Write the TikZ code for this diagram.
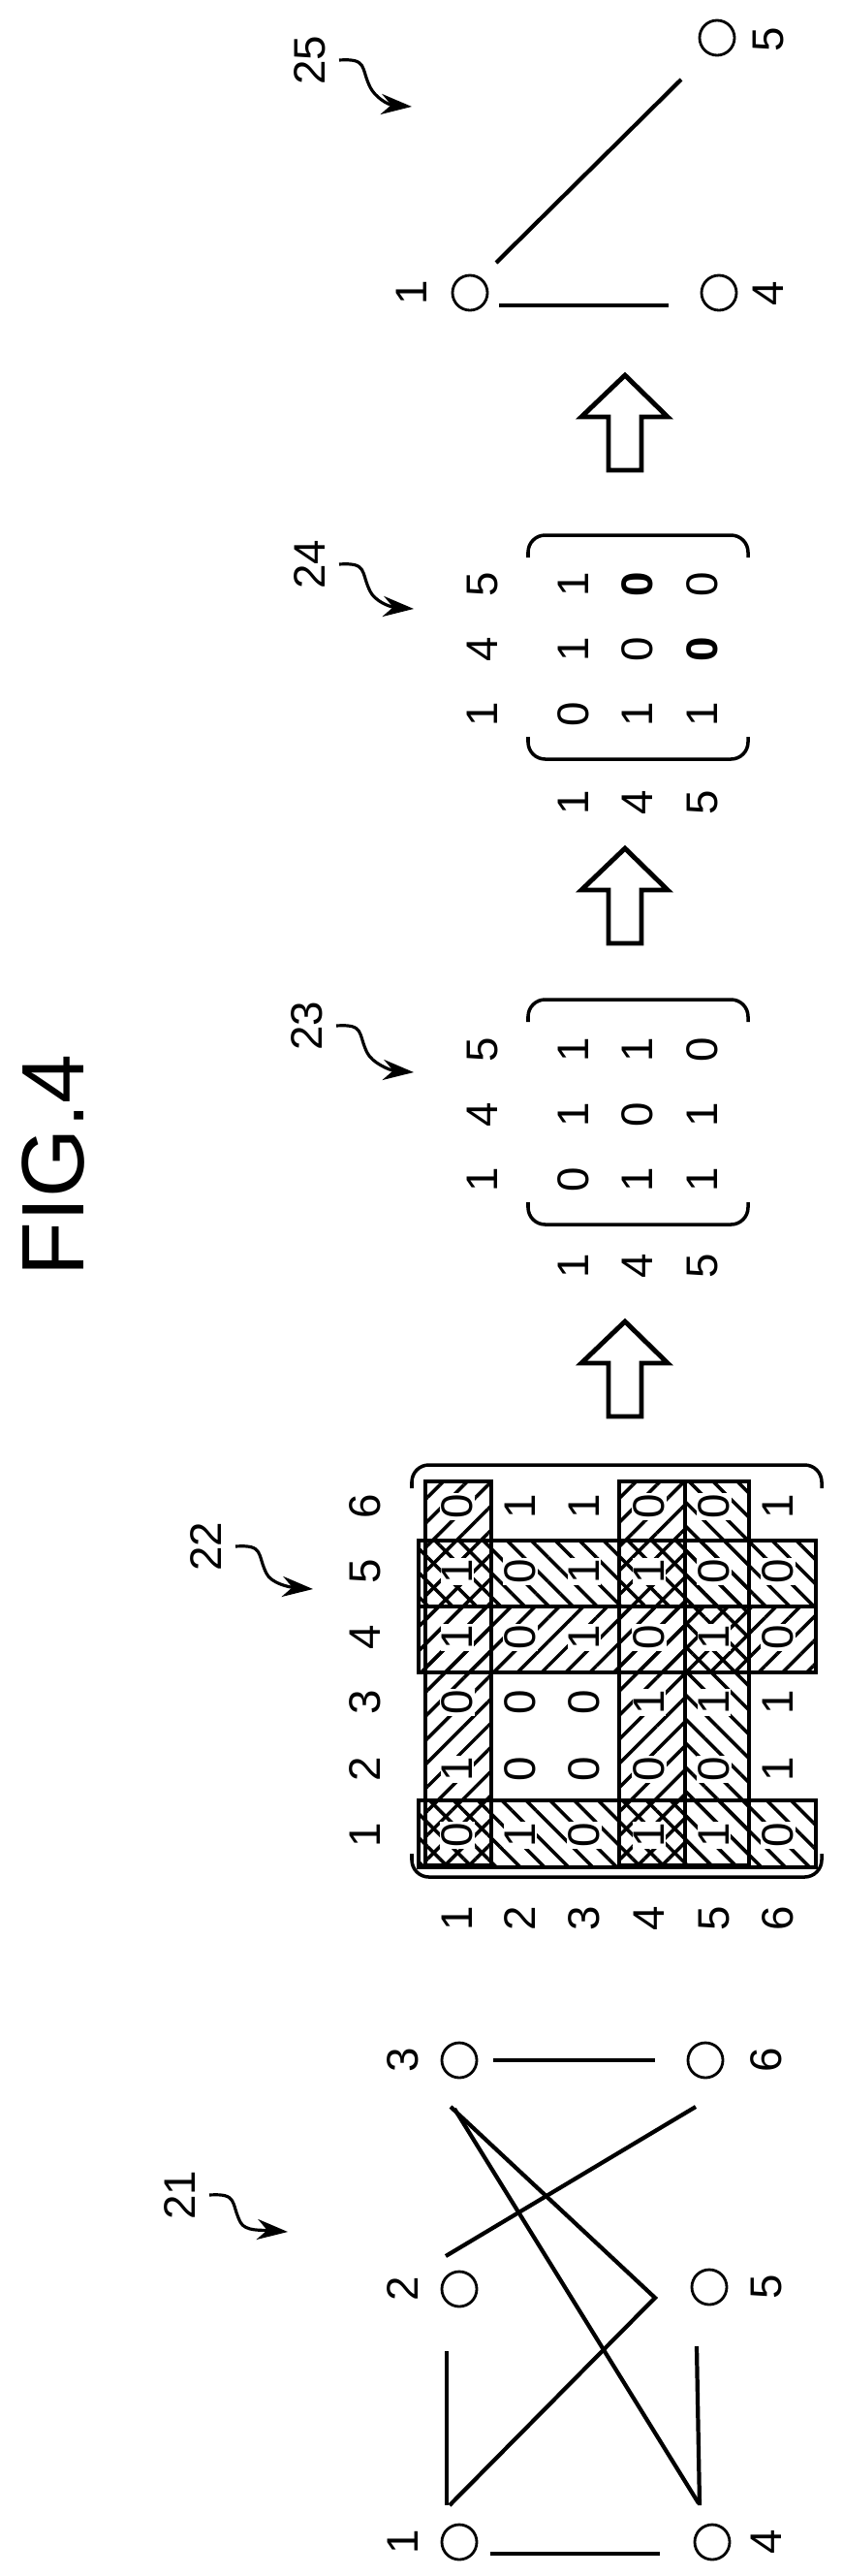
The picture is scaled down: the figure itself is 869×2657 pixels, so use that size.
\documentclass[tikz,border=0pt]{standalone}
\usepackage{fontspec}
\setmainfont{Liberation Sans}
\usetikzlibrary{arrows.meta,patterns.meta}
\begin{document}
\begin{tikzpicture}[x=0.01cm,y=-0.01cm,
  lbl/.style={rotate=90,inner sep=0pt,font=\fontsize{13}{15}\selectfont},
  vtx/.style={circle,draw,line width=0.8pt,minimum size=0.36cm,inner sep=0pt},
  edge/.style={line width=1.2pt},
  brk/.style={line width=1pt,rounded corners=5},
  wig/.style={line width=0.9pt,-{Stealth[length=9pt,width=6pt]}},
  bigarrow/.style={line width=1.4pt,line join=miter},
  band/.style={draw,line width=1.2pt},
  ne/.style={pattern={Lines[angle=45,distance=5pt,line width=1pt]}},
  nw/.style={pattern={Lines[angle=-45,distance=5pt,line width=1pt]}}]
\useasboundingbox (0,0) rectangle (869,2657);

% title
\node[rotate=90,inner sep=0pt,font=\fontsize{26}{30}\selectfont] (fig) at (55,1202) {FIG.4};

% reference labels with wiggle arrows
\node[lbl] (l21) at (186,2264) {21};
\node[lbl] (l22) at (213,1595) {22};
\node[lbl] (l23) at (317,1058) {23};
\node[lbl] (l24) at (320,582) {24};
\node[lbl] (l25) at (320,62) {25};
\coordinate (t21) at (297,2302);
\coordinate (t22) at (323,1639);
\coordinate (t23) at (427,1106);
\coordinate (t24) at (427,628);
\coordinate (t25) at (425,110);
\foreach \n in {21,22,23,24,25}{
  \draw[wig] ([xshift=0.3cm]l\n.center) .. controls +(30,-2) and +(-10,-20) .. ([xshift=0.62cm,yshift=-0.28cm]l\n.center)
     .. controls +(5,10) and +(-25,-2) .. (t\n);
}

% ---------- graph 21 ----------
\node[vtx] (a1) at (474,2622) {};
\node[vtx] (a2) at (474,2361) {};
\node[vtx] (a3) at (474,2125) {};
\node[vtx] (a4) at (735,2622) {};
\node[vtx] (a5) at (732,2359) {};
\node[vtx] (a6) at (728,2125) {};
\node[lbl] (a1l) at (416,2622) {1};
\node[lbl] (a2l) at (416,2361) {2};
\node[lbl] (a3l) at (416,2125) {3};
\node[lbl] (a4l) at (791,2622) {4};
\node[lbl] (a5l) at (791,2359) {5};
\node[lbl] (a6l) at (791,2125) {6};
\coordinate (bend) at (676,2370);
\draw[edge] (506,2634) -- (681,2634);
\draw[edge] (509,2125) -- (676,2125);
\draw[edge] (461,2425) -- (461,2584);
\draw[edge] (719,2420) -- (722,2584);
\draw[edge,line join=miter] (464,2584) -- (bend) -- (465,2173);
\draw[edge] (469,2175) -- (721,2582);
\draw[edge] (460,2327) -- (718,2173);

% ---------- matrix 22 ----------
\fill[nw] (432,1857) rectangle (842,1926);
\fill[ne] (432,1657) rectangle (842,1725);
\fill[nw] (432,1589) rectangle (842,1657);
\fill[ne] (439,1528) rectangle (507,1924);
\fill[ne] (639,1528) rectangle (707,1924);
\fill[nw] (707,1528) rectangle (773,1924);
\draw[band] (432,1857) rectangle (842,1926);
\draw[band] (432,1657) rectangle (842,1725);
\draw[band] (432,1589) rectangle (842,1657);
\draw[band] (439,1528) rectangle (507,1924);
\draw[band] (639,1528) rectangle (707,1924);
\draw[band] (707,1528) rectangle (773,1924);
\draw[brk] (425,1535) -- (425,1511) -- (848,1511) -- (848,1535);
\draw[brk] (425,1912) -- (425,1936) -- (848,1936) -- (848,1912);
\def\rowx{{0,472,537,603,670,737,803}}
\def\coly{{0,1893,1825,1756,1689,1621,1554}}
\foreach \i in {1,...,6}{
  \pgfmathsetmacro\xx{\rowx[\i]}
  \pgfmathsetmacro\yy{\coly[\i]}
  \node[lbl] (r22-\i) at (\xx,1979) {\i};
  \node[lbl] (c22-\i) at (377,\yy) {\i};
}
\foreach \i/\row in {1/{0,1,0,1,1,0},2/{1,0,0,0,0,1},3/{0,0,0,1,1,1},4/{1,0,1,0,1,0},5/{1,0,1,1,0,0},6/{0,1,1,0,0,1}}{
  \foreach \v [count=\j] in \row {
    \pgfmathsetmacro\xx{\rowx[\i]}
    \pgfmathsetmacro\yy{\coly[\j]}
    \node[lbl,fill=white,inner sep=0.5pt] (m22-\i-\j) at (\xx,\yy) {\v};
  }
}

% ---------- block arrows ----------
\foreach \n/\ty in {A/1363,B/875,C/387}{
  \draw[bigarrow] (645,\ty) -- (689,\ty+43) -- (662,\ty+43) -- (662,\ty+98) -- (628,\ty+98) -- (628,\ty+43) -- (600,\ty+43) -- cycle;
}

% ---------- matrix 23 ----------
\draw[brk] (545,1054) -- (545,1031) -- (772,1031) -- (772,1054);
\draw[brk] (545,1240) -- (545,1263) -- (772,1263) -- (772,1240);
\node[lbl] (c23-1) at (498,1217) {1};
\node[lbl] (c23-4) at (498,1150) {4};
\node[lbl] (c23-5) at (498,1083) {5};
\node[lbl] (r23-1) at (592,1306) {1};
\node[lbl] (r23-4) at (658,1306) {4};
\node[lbl] (r23-5) at (725,1306) {5};
\foreach \xx/\a/\b/\c [count=\k] in {592/0/1/1,658/1/0/1,725/1/1/0}{
  \node[lbl] (m23-\k-1) at (\xx,1217) {\a};
  \node[lbl] (m23-\k-2) at (\xx,1150) {\b};
  \node[lbl] (m23-\k-3) at (\xx,1083) {\c};
}

% ---------- matrix 24 ----------
\draw[brk] (545,575) -- (545,552) -- (772,552) -- (772,575);
\draw[brk] (545,760) -- (545,783) -- (772,783) -- (772,760);
\node[lbl] (c24-1) at (498,737) {1};
\node[lbl] (c24-4) at (498,670) {4};
\node[lbl] (c24-5) at (498,603) {5};
\node[lbl] (r24-1) at (592,828) {1};
\node[lbl] (r24-4) at (658,828) {4};
\node[lbl] (r24-5) at (725,828) {5};
\node[lbl] (m24-1-1) at (592,737) {0};
\node[lbl] (m24-1-2) at (592,670) {1};
\node[lbl] (m24-1-3) at (592,603) {1};
\node[lbl] (m24-2-1) at (658,737) {1};
\node[lbl] (m24-2-2) at (658,670) {0};
\node[lbl] (m24-2-3) at (658,603) {\bfseries 0};
\node[lbl] (m24-3-1) at (725,737) {1};
\node[lbl] (m24-3-2) at (725,670) {\bfseries 0};
\node[lbl] (m24-3-3) at (725,603) {0};

% ---------- graph 25 ----------
\node[vtx] (b1) at (485,302) {};
\node[vtx] (b4) at (742,302) {};
\node[vtx] (b5) at (740,39) {};
\node[lbl] (b1l) at (425,302) {1};
\node[lbl] (b4l) at (793,303) {4};
\node[lbl] (b5l) at (793,41) {5};
\draw[edge] (515,315) -- (690,315);
\draw[edge] (512,271) -- (703,82);
\end{tikzpicture}
\end{document}
